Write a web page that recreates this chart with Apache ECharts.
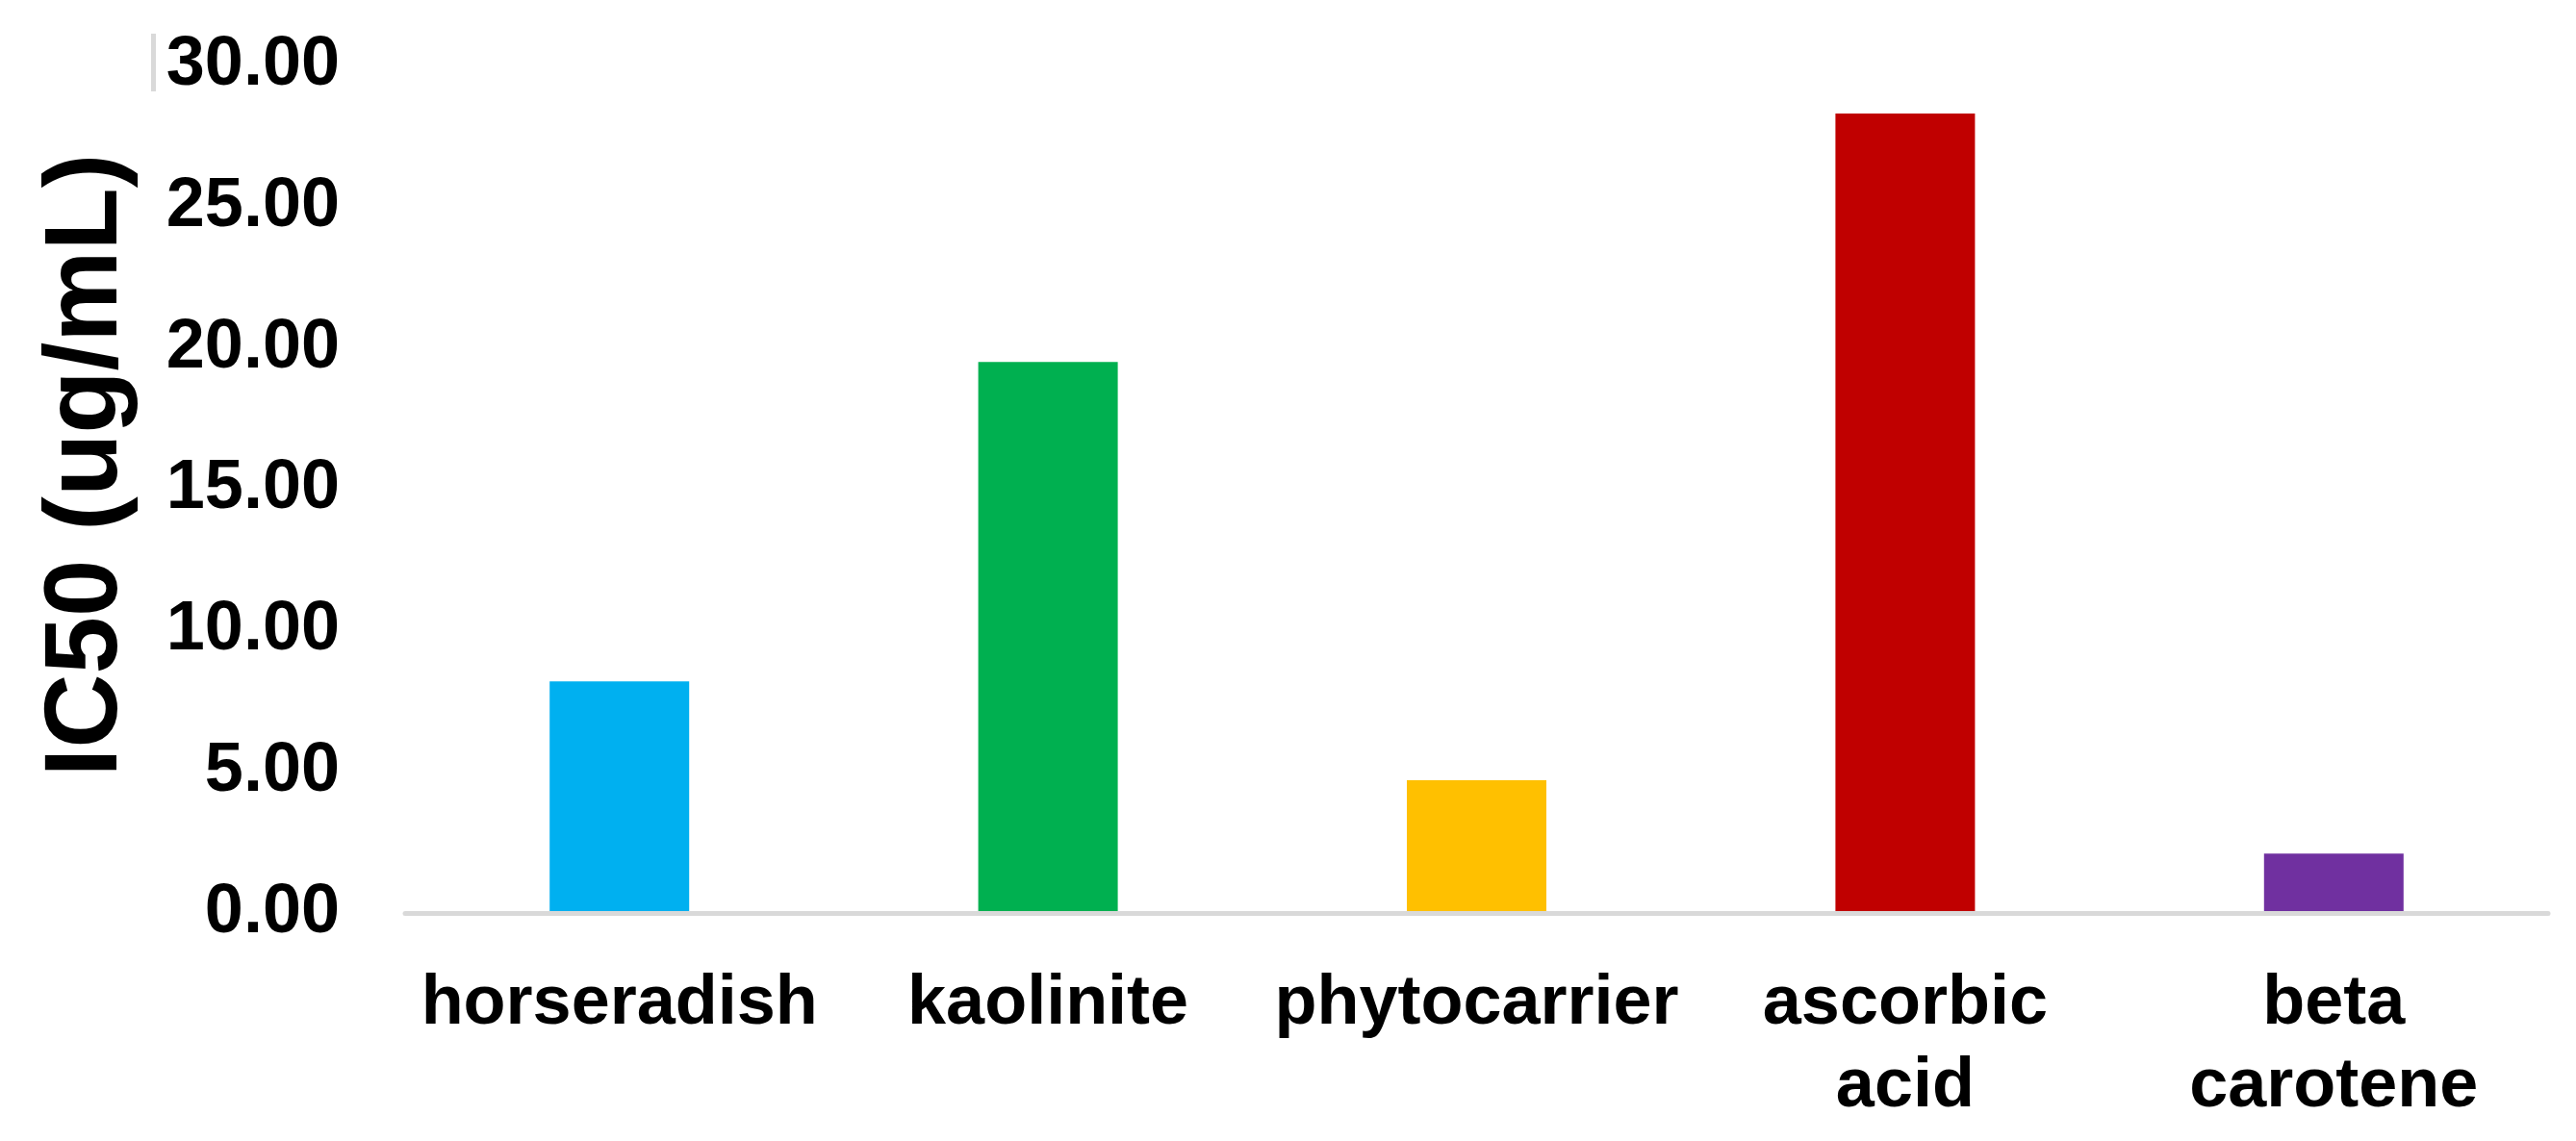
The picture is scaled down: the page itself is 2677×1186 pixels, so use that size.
<!DOCTYPE html>
<html>
<head>
<meta charset="utf-8">
<script src="https://cdn.jsdelivr.net/npm/echarts@6/dist/echarts.min.js"></script>
<style>
  html, body { margin: 0; padding: 0; background: #fff; }
  #chart { width: 2677px; height: 1186px; }
</style>
</head>
<body>
<div id="chart"></div>
<script>
// IC50 values
const categories = ['horseradish', 'kaolinite', 'phytocarrier', 'ascorbic\nacid', 'beta\ncarotene']
const ic50 = [8.2, 19.5, 4.7, 28.3, 2.1]
const barColors = ['#00B0F0', '#00B050', '#FFC000', '#C00000', '#7030A0']
const yTicks = [0, 5, 10, 15, 20, 25, 30]

const font = '"Liberation Sans", Arial, sans-serif'
const chart = echarts.init(document.getElementById('chart'))

chart.setOption({
  animation: false,
  grid: {
    left: 421,
    right: 29,
    top: 68,
    bottom: 237
  },
  graphic: [
    {
      // small grey stub left of the top label
      type: 'rect',
      shape: { x: 157, y: 35, width: 5, height: 60 },
      style: { fill: '#d9d9d9' }
    }
  ],
  xAxis: {
    type: 'category',
    data: categories,
    z: 5,
    axisLine: { lineStyle: { color: '#d9d9d9', width: 5 } },
    axisTick: { show: false },
    axisLabel: {
      color: '#000',
      fontFamily: font,
      fontWeight: 'bold',
      fontSize: 72,
      lineHeight: 86,
      margin: 52,
      interval: 0
    }
  },
  yAxis: {
    type: 'value',
    min: yTicks[0],
    max: yTicks[yTicks.length - 1],
    interval: 5,
    name: 'IC50 (ug/mL)',
    nameLocation: 'middle',
    nameGap: 276,
    nameTextStyle: {
      color: '#000',
      fontFamily: font,
      fontWeight: 'bold',
      fontSize: 107,
      // nudge the title up a little
      padding: [0, 0, 0, 50]
    },
    axisLine: { show: false },
    axisTick: { show: false },
    splitLine: { show: false },
    axisLabel: {
      color: '#000',
      fontFamily: font,
      fontWeight: 'bold',
      fontSize: 72,
      margin: 68,
      formatter: (v) => v.toFixed(2)
    }
  },
  series: [
    {
      type: 'bar',
      barWidth: 145,
      data: ic50.map((v, i) => ({
        value: v,
        itemStyle: { color: barColors[i] }
      }))
    }
  ]
})
</script>
</body>
</html>
